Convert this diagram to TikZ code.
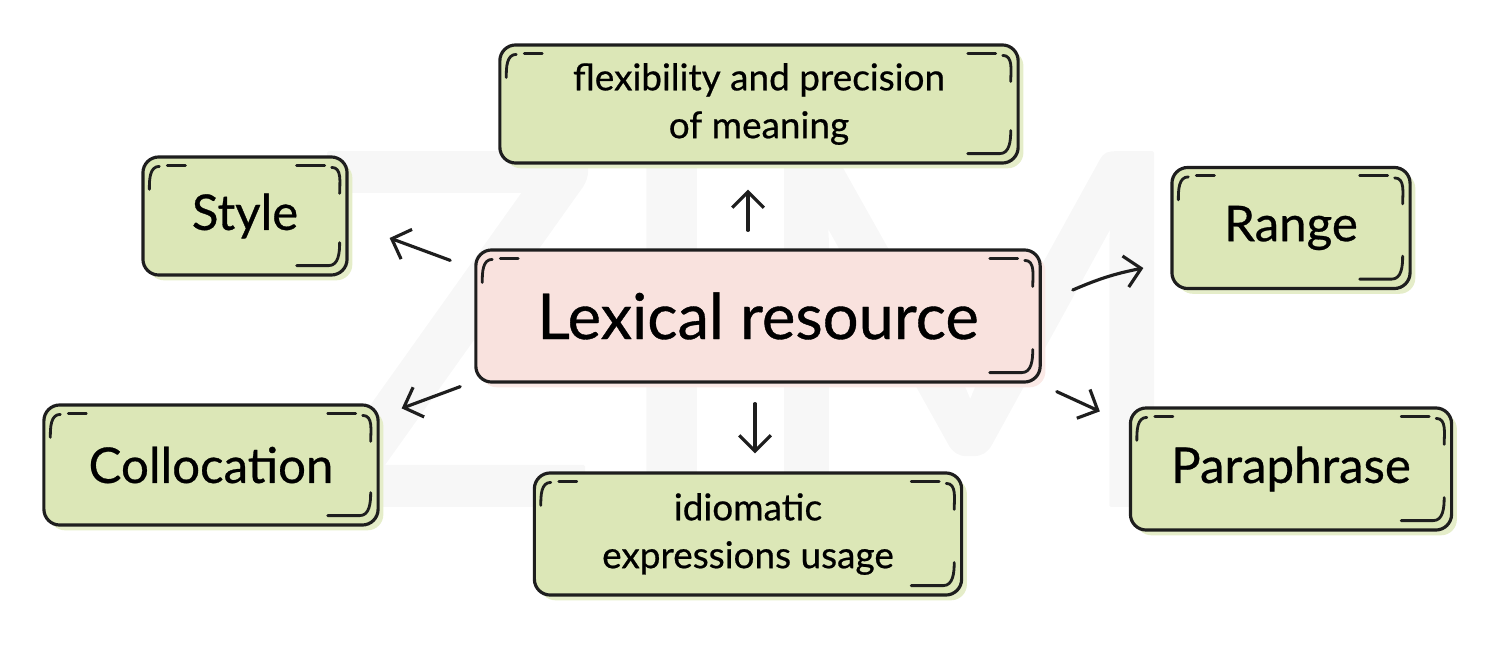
\documentclass[tikz,border=0pt]{standalone}
\usepackage{fontspec}
\setmainfont{Lato}[FakeBold=0.6]
\usetikzlibrary{arrows.meta,shadows}

\definecolor{leafgreen}{HTML}{DCE7B7}
\definecolor{rosefill}{HTML}{F9E2DE}
\definecolor{ink}{HTML}{1E1E1E}

\tikzset{
  card/.style={draw=ink, line width=0.9pt, rounded corners=4.5pt, fill=#1, align=center, inner sep=0pt,
    drop shadow={fill=#1!75, opacity=1, shadow xshift=1.5pt, shadow yshift=-1.5pt}},
  nick/.style={ink, line width=0.8pt, line cap=round},
  link/.style={->, ink, line width=0.9pt},
}

\begin{document}
\begin{tikzpicture}[line cap=round,line join=round,>={Straight Barb[length=4.5pt,width=9pt]},x=0.01cm,y=0.01cm]

\useasboundingbox (0,0) rectangle (1500,654);

% faint watermark
\node[text=black!3, font=\fontsize{140}{140}\selectfont] (stamp) at (752,325) {ZIM};

% boxes
\node[card=leafgreen, minimum width=5.18cm, minimum height=1.18cm, font=\fontsize{10.5}{13.6}\selectfont] (precision) at (759,550) {flexibility and precision\\of meaning};
\node[card=leafgreen, minimum width=2.04cm, minimum height=1.18cm, font=\fontsize{14}{16}\selectfont] (style) at (245,438) {Style};
\node[card=rosefill, minimum width=5.64cm, minimum height=1.32cm, font=\fontsize{18}{20}\selectfont] (lexis) at (758,338) {Lexical resource};
\node[card=leafgreen, minimum width=2.38cm, minimum height=1.21cm, font=\fontsize{14}{16}\selectfont] (range) at (1291,426) {Range};
\node[card=leafgreen, minimum width=3.34cm, minimum height=1.20cm, font=\fontsize{14}{16}\selectfont] (colloc) at (211,189) {Collocation};
\node[card=leafgreen, minimum width=4.27cm, minimum height=1.22cm, font=\fontsize{10.5}{13.6}\selectfont] (idiom) at (748,120) {idiomatic\\expressions usage};
\node[card=leafgreen, minimum width=3.21cm, minimum height=1.22cm, font=\fontsize{14}{16}\selectfont] (para) at (1291,185) {Paraphrase};

% sketchy inner corners
\foreach \n in {precision,style,lexis,range,colloc,idiom,para}{
  \draw[nick] ([shift={(8,-34)}]\n.north west) to[out=90,in=180] ([shift={(18,-11)}]\n.north west);
  \draw[nick] ([shift={(26,-10)}]\n.north west) -- ([shift={(44,-10)}]\n.north west);
  \draw[nick] ([shift={(-52,-10)}]\n.north east) -- ([shift={(-24,-10)}]\n.north east);
  \draw[nick] ([shift={(-17,-12)}]\n.north east) to[out=0,in=90] ([shift={(-9,-38)}]\n.north east);
  \draw[nick] ([shift={(-9,34)}]\n.south east) to[out=-90,in=0] ([shift={(-20,11)}]\n.south east) -- ([shift={(-52,11)}]\n.south east);
}

% arrows
\draw[link] ([shift={(-10,18)}]lexis.north) -- ([shift={(-11,-25)}]precision.south);
\draw[link] ([shift={(-24,-12)}]lexis.north west) -- ([shift={(41,-22)}]style.east);
\draw[link] ([shift={(31,26)}]lexis.east) to[bend left=6] ([shift={(-27,-40)}]range.west);
\draw[link] ([shift={(-14,-3)}]lexis.south west) -- ([shift={(22,-5)}]colloc.north east);
\draw[link] ([shift={(-3,-20)}]lexis.south) -- ([shift={(7,18)}]idiom.north);
\draw[link] ([shift={(15,-8)}]lexis.south east) -- ([shift={(-29,-5)}]para.north west);

\end{tikzpicture}
\end{document}
